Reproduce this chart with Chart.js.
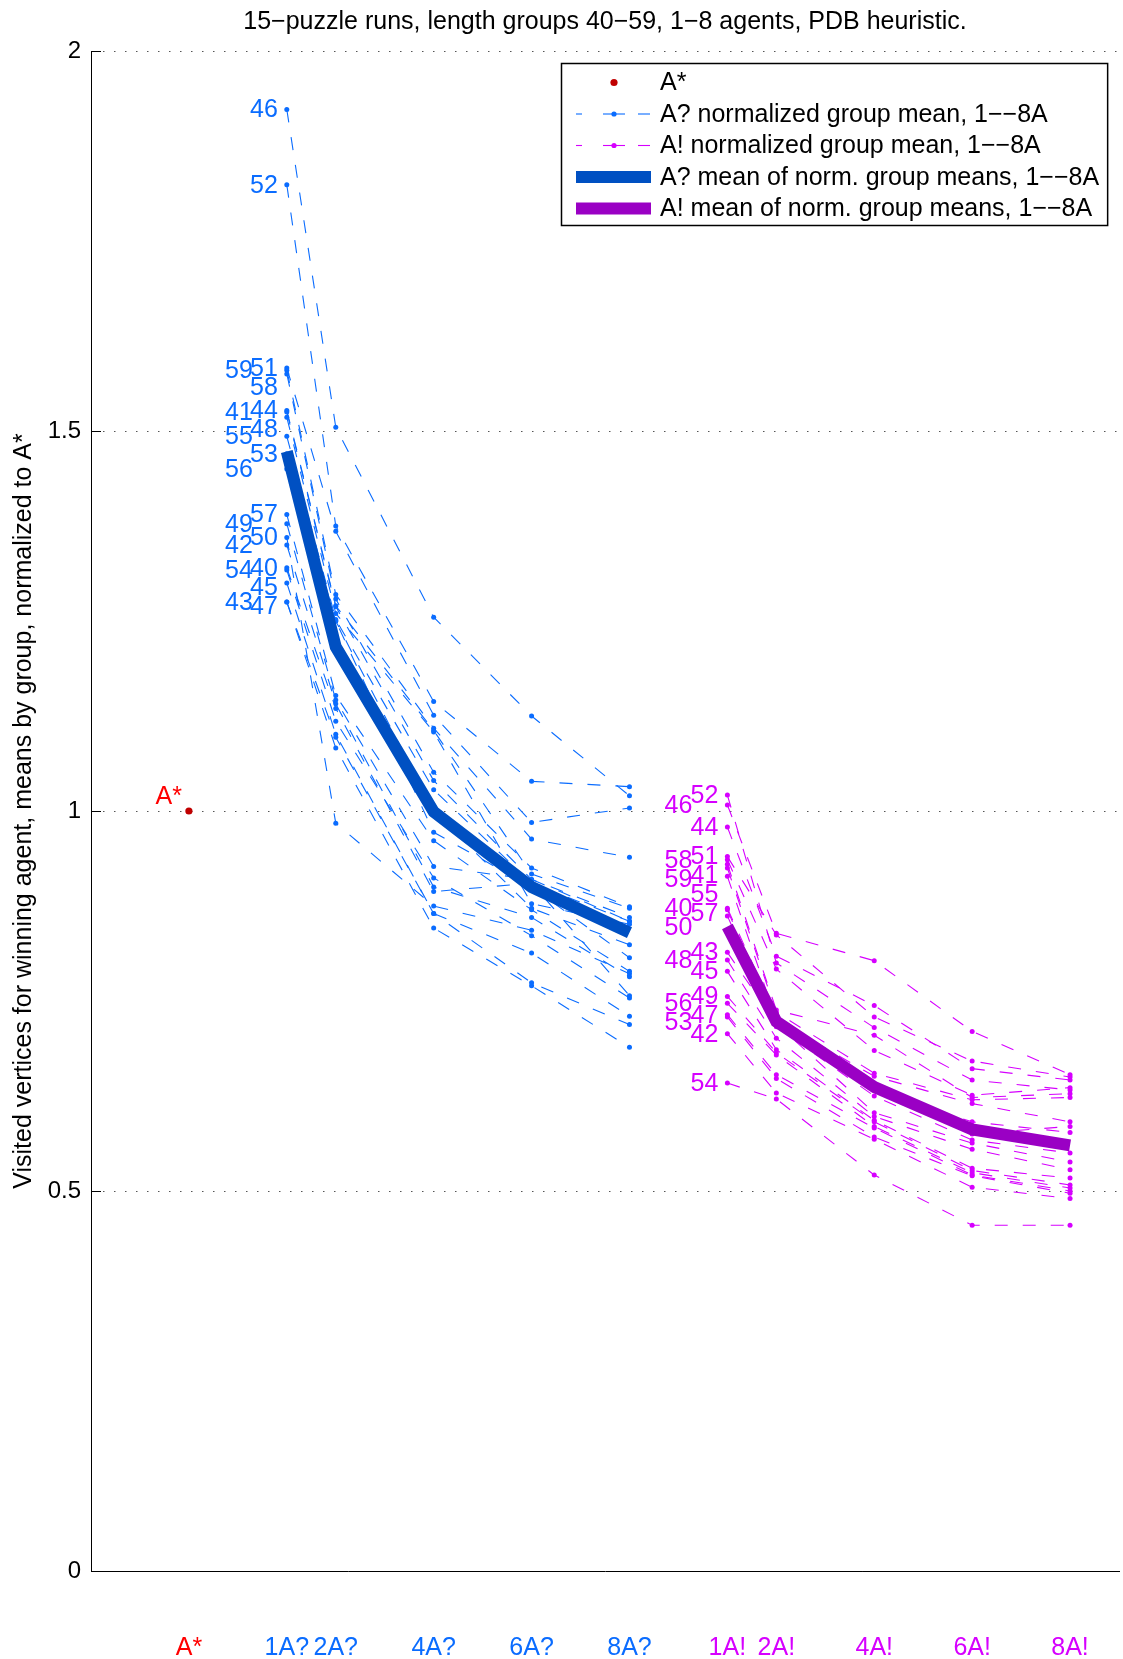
<!DOCTYPE html>
<html>
<head>
<meta charset="utf-8">
<title>15-puzzle runs, PDB heuristic</title>
<script src="https://cdn.jsdelivr.net/npm/chart.js@4.4.1/dist/chart.umd.min.js"></script>
<style>
    html, body { margin: 0; padding: 0; background: #fff; }
</style>
</head>
<body>
<canvas id="puzzleChart" width="1123" height="1659"></canvas>
<script>
// length groups, one entry per column below
const groups = [40, 41, 42, 43, 44, 45, 46, 47, 48, 49, 50, 51, 52, 53, 54, 55, 56, 57, 58, 59];

// x positions: A* alone, then 1,2,4,6,8 agents for A? and for A!
const xStar = -1;
const xQ = [1, 2, 4, 6, 8];
const xE = [10, 11, 13, 15, 17];
const xTickVals = [-1, 1, 2, 4, 6, 8, 10, 11, 13, 15, 17];
const xTickText = ['A*', '1A?', '2A?', '4A?', '6A?', '8A?', '1A!', '2A!', '4A!', '6A!', '8A!'];
const yTickVals = [0, 0.5, 1, 1.5, 2];

// A? normalized group means (per agent count, indexed like groups)
const q1 = [1.320, 1.525, 1.350, 1.275, 1.527, 1.300, 1.923, 1.275, 1.518, 1.378, 1.360, 1.583, 1.824, 1.470, 1.317, 1.493, 1.450, 1.390, 1.575, 1.580];
const q2 = [1.135, 1.269, 1.141, 1.097, 1.270, 1.101, 1.505, 1.083, 1.260, 1.146, 0.984, 1.368, 1.375, 1.250, 1.118, 1.252, 1.250, 1.152, 1.279, 1.285];
const q4 = [0.894, 1.040, 0.900, 0.865, 1.106, 0.865, 1.255, 0.846, 1.104, 0.927, 0.875, 1.126, 1.144, 1.000, 0.912, 1.028, 0.972, 0.961, 1.051, 1.109];
const q6 = [0.905, 0.910, 0.860, 0.774, 0.917, 0.813, 1.125, 0.770, 0.878, 0.910, 0.843, 0.985, 1.039, 0.872, 0.836, 0.905, 0.900, 0.870, 0.925, 0.963];
const q8 = [0.757, 0.860, 0.782, 0.719, 0.872, 0.730, 1.020, 0.689, 0.851, 0.855, 0.786, 1.004, 1.032, 0.824, 0.754, 0.855, 0.807, 0.789, 0.874, 0.939];

// A! normalized group means
const e1 = [0.872, 0.930, 0.707, 0.814, 0.979, 0.789, 1.008, 0.732, 0.804, 0.756, 0.862, 0.940, 1.021, 0.729, 0.642, 0.914, 0.747, 0.870, 0.936, 0.925];
const e2 = [0.730, 0.738, 0.629, 0.720, 0.809, 0.686, 0.839, 0.653, 0.701, 0.682, 0.716, 0.837, 0.800, 0.648, 0.621, 0.725, 0.679, 0.720, 0.792, 0.735];
const e4 = [0.640, 0.705, 0.568, 0.603, 0.744, 0.593, 0.803, 0.583, 0.598, 0.591, 0.625, 0.729, 0.715, 0.571, 0.521, 0.651, 0.585, 0.632, 0.685, 0.655];
const e6 = [0.575, 0.623, 0.505, 0.563, 0.661, 0.530, 0.710, 0.521, 0.555, 0.527, 0.567, 0.671, 0.646, 0.520, 0.455, 0.615, 0.524, 0.591, 0.626, 0.620];
const e8 = [0.585, 0.628, 0.490, 0.538, 0.646, 0.517, 0.653, 0.500, 0.528, 0.508, 0.550, 0.650, 0.633, 0.497, 0.455, 0.591, 0.504, 0.577, 0.636, 0.623];

// mean of normalized group means
const meanQ = [1.473, 1.216, 0.999, 0.900, 0.840];
const meanE = [0.848, 0.723, 0.637, 0.581, 0.560];
const starValue = 1;

const FONT = '25px "Liberation Sans", Arial, sans-serif';
const BLUE = '#0a6cff';
const BLUE_THICK = '#0050c2';
const MAGENTA = '#d600ff';
const PURPLE_THICK = '#9a00c4';
const STAR_DOT = '#c00000';
const STAR_TEXT = '#ff0000';

const qCols = [q1, q2, q4, q6, q8];
const eCols = [e1, e2, e4, e6, e8];

const thinLine = (color, xs, cols, gi) => ({
    data: xs.map((x, k) => ({ x: x, y: cols[k][gi] })),
    showLine: true,
    borderColor: color,
    borderWidth: 1.1,
    borderDash: [13, 15],
    pointRadius: 2.5,
    pointBorderWidth: 0,
    pointBackgroundColor: color,
    order: 2
});

const datasets = [
    { data: [{ x: xStar, y: starValue }], showLine: false, pointRadius: 3.6, pointBorderWidth: 0,
      pointBackgroundColor: STAR_DOT, order: 0 },
    { data: xQ.map((x, k) => ({ x: x, y: meanQ[k] })), showLine: true, borderColor: BLUE_THICK,
      borderWidth: 12, borderCapStyle: 'butt', borderJoinStyle: 'miter', pointRadius: 0, order: 1 },
    { data: xE.map((x, k) => ({ x: x, y: meanE[k] })), showLine: true, borderColor: PURPLE_THICK,
      borderWidth: 12, borderCapStyle: 'butt', borderJoinStyle: 'miter', pointRadius: 0, order: 1 }
];
groups.forEach((g, gi) => {
    datasets.push(thinLine(BLUE, xQ, qCols, gi));
    datasets.push(thinLine(MAGENTA, xE, eCols, gi));
});

function tickColor(v) {
    if (v < 0) return STAR_TEXT;
    return v < 9 ? BLUE : MAGENTA;
}

// group number labels beside the 1-agent points, pushed into a second column when crowded
function drawGroupLabels(chart, xVal, values, color, shift) {
    const { ctx, scales: { x, y } } = chart;
    const px = x.getPixelForValue(xVal);
    const idx = groups.map((_, i) => i).sort((a, b) => values[b] - values[a]);
    const gap = 19;
    const last = [-1e9, -1e9];
    ctx.save();
    ctx.font = FONT;
    ctx.fillStyle = color;
    ctx.textAlign = 'right';
    ctx.textBaseline = 'middle';
    idx.forEach(i => {
        const py = y.getPixelForValue(values[i]);
        const y0 = Math.max(py, last[0] + gap);
        const y1 = Math.max(py, last[1] + gap);
        const col = (y0 - py) <= (y1 - py) + 3 ? 0 : 1;
        const ty = col === 0 ? y0 : y1;
        last[col] = ty;
        ctx.fillText(String(groups[i]), px - 9 - col * shift, ty + 1);
    });
    ctx.restore();
}

const decorPlugin = {
    id: 'decor',
    afterDatasetsDraw(chart) {
        const { ctx, chartArea, scales: { x, y } } = chart;
        drawGroupLabels(chart, xQ[0], q1, BLUE, 25);
        drawGroupLabels(chart, xE[0], e1, MAGENTA, 26);

        // A* label
        ctx.save();
        ctx.font = FONT;
        ctx.fillStyle = STAR_TEXT;
        ctx.textAlign = 'right';
        ctx.textBaseline = 'middle';
        ctx.fillText('A*', x.getPixelForValue(xStar) - 7, y.getPixelForValue(starValue) - 14);

        // inward y ticks
        ctx.strokeStyle = '#000';
        ctx.lineWidth = 1;
        yTickVals.forEach(v => {
            const py = Math.round(y.getPixelForValue(v)) + 0.5;
            ctx.beginPath();
            ctx.moveTo(chartArea.left, py);
            ctx.lineTo(chartArea.left + 10, py);
            ctx.stroke();
        });
        ctx.restore();
    },
    afterDraw(chart) {
        const { ctx, chartArea } = chart;
        ctx.save();
        ctx.font = FONT;
        ctx.fillStyle = '#000';

        // title
        ctx.textAlign = 'center';
        ctx.textBaseline = 'middle';
        ctx.fillText('15\u2212puzzle runs, length groups 40\u221259, 1\u22128 agents, PDB heuristic.',
            (chartArea.left + chartArea.right) / 2, 22);

        // y axis title
        ctx.save();
        ctx.translate(24, (chartArea.top + chartArea.bottom) / 2);
        ctx.rotate(-Math.PI / 2);
        ctx.fillText('Visited vertices for winning agent, means by group, normalized to A*', 0, 0);
        ctx.restore();

        // legend box
        const legendText = ['A*', 'A? normalized group mean, 1\u2212\u22128A', 'A! normalized group mean, 1\u2212\u22128A',
            'A? mean of norm. group means, 1\u2212\u22128A', 'A! mean of norm. group means, 1\u2212\u22128A'];
        const textW = Math.max(...legendText.map(t => ctx.measureText(t).width));
        const w = 99 + textW + 8, h = 162;
        const x0 = Math.round(chartArea.right - 12 - w);
        const top = chartArea.top + 12;
        ctx.fillStyle = '#fff';
        ctx.fillRect(x0, top, w, h);
        ctx.strokeStyle = '#000';
        ctx.lineWidth = 1.5;
        ctx.strokeRect(x0 + 0.5, top + 0.5, w, h);

        const rowY = i => top + 19.5 + i * 31.5;
        // A* marker
        ctx.fillStyle = STAR_DOT;
        ctx.beginPath();
        ctx.arc(x0 + 53, rowY(0), 3.6, 0, Math.PI * 2);
        ctx.fill();
        // dashed samples with marker
        [[BLUE, 1], [MAGENTA, 2]].forEach(([c, r]) => {
            ctx.strokeStyle = c;
            ctx.fillStyle = c;
            ctx.lineWidth = 1.1;
            [[15, 21], [42, 64], [77, 89]].forEach(([a, b]) => {
                ctx.beginPath();
                ctx.moveTo(x0 + a, rowY(r));
                ctx.lineTo(x0 + b, rowY(r));
                ctx.stroke();
            });
            ctx.beginPath();
            ctx.arc(x0 + 53, rowY(r), 2.6, 0, Math.PI * 2);
            ctx.fill();
        });
        // thick samples
        [[BLUE_THICK, 3], [PURPLE_THICK, 4]].forEach(([c, r]) => {
            ctx.strokeStyle = c;
            ctx.lineWidth = 12;
            ctx.lineCap = 'butt';
            ctx.beginPath();
            ctx.moveTo(x0 + 15, rowY(r));
            ctx.lineTo(x0 + 90, rowY(r));
            ctx.stroke();
        });
        ctx.fillStyle = '#000';
        ctx.textAlign = 'left';
        ctx.textBaseline = 'middle';
        legendText.forEach((t, i) => ctx.fillText(t, x0 + 99, rowY(i) + 1));
        ctx.restore();
    }
};

new Chart(document.getElementById('puzzleChart'), {
    type: 'scatter',
    data: { datasets: datasets },
    plugins: [decorPlugin],
    options: {
        responsive: false,
        animation: false,
        devicePixelRatio: 1,
        layout: { padding: { top: 51, right: 0, left: 0, bottom: 0 } },
        plugins: { legend: { display: false }, tooltip: { enabled: false }, title: { display: false } },
        scales: {
            x: {
                type: 'linear',
                min: -3,
                max: 18,
                afterBuildTicks: s => { s.ticks = xTickVals.map(v => ({ value: v })); },
                afterFit: s => { s.height = 88; s.paddingLeft = 0; s.paddingRight = 0; },
                grid: { display: false, drawTicks: false },
                border: { display: true, color: '#000', width: 1 },
                ticks: {
                    autoSkip: false,
                    maxRotation: 0,
                    padding: 62,
                    font: { family: '"Liberation Sans", Arial, sans-serif', size: 25 },
                    color: c => tickColor(c.tick.value),
                    callback: v => xTickText[xTickVals.indexOf(v)]
                }
            },
            y: {
                min: 0,
                max: 2,
                afterBuildTicks: s => { s.ticks = yTickVals.map(v => ({ value: v })); },
                afterFit: s => { s.width = 91; },
                grid: { color: '#555', lineWidth: 1, drawTicks: false },
                border: { display: true, color: '#000', width: 1, dash: [1.5, 9.5] },
                ticks: {
                    padding: 10,
                    font: { family: '"Liberation Sans", Arial, sans-serif', size: 24 },
                    color: '#000',
                    callback: v => String(v)
                }
            }
        }
    }
});
</script>
</body>
</html>
